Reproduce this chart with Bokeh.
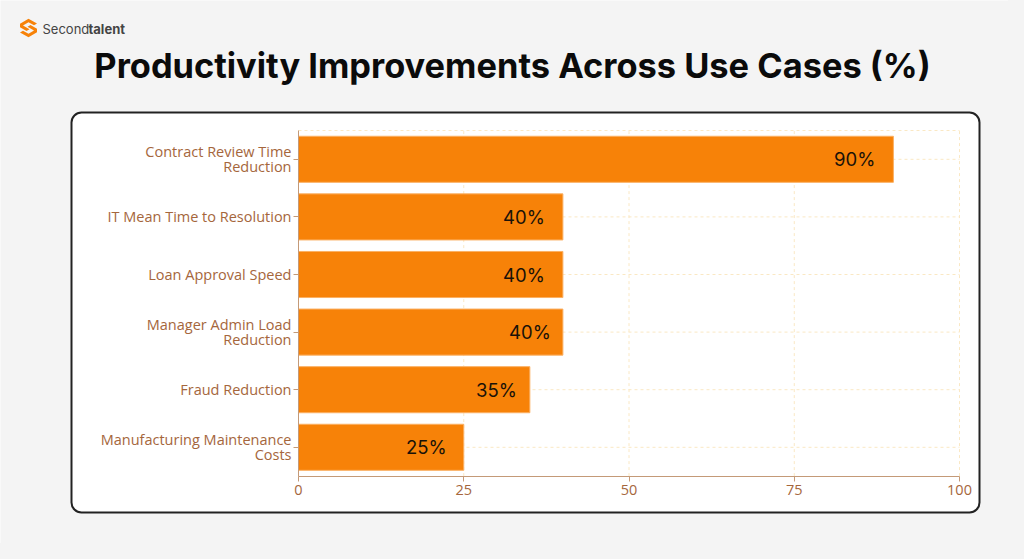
from bokeh.core.properties import value
from bokeh.embed import file_html
from bokeh.resources import INLINE
from bokeh.plotting import figure
from bokeh.models import (BoxAnnotation, ColumnDataSource, InlineStyleSheet, Label, LinearAxis,
                          PolyAnnotation, Range1d)

categories = ["Contract Review Time\nReduction", "IT Mean Time to Resolution", "Loan Approval Speed",
              "Manager Admin Load\nReduction", "Fraud Reduction", "Manufacturing Maintenance\nCosts"]
values = [90, 40, 40, 40, 35, 25]
value_labels = ["90%", "40%", "40%", "40%", "35%", "25%"]
label_nudges = [-18, -18, -18, -12, -13, -17]
x_ticks = [0, 25, 50, 75, 100]
title_text = "Productivity Improvements Across Use Cases (%)"

W, H = 1008, 543
BG = "#f4f4f4"
ORANGE = "#f78208"
AXIS_TEXT = "#a5663c"
AXIS_LINE = "#c49a78"
GRID = "#fae8c4"

# pixel layout of the plot area inside the canvas
LEFT, RIGHT, TOP, ROW = 298, 959, 130, 57.6
n = len(categories)
px_per_unit = (RIGHT - LEFT) / 100
X = lambda px: (px - LEFT) / px_per_unit
Y = lambda py: n - 0.5 - (py - TOP) / ROW

p = figure(width=W, height=H, output_backend="svg", toolbar_location=None,
           x_range=Range1d(X(0), X(W)), y_range=Range1d(Y(H), Y(0)),
           x_axis_location=None, y_axis_location=None, min_border=0)
p.stylesheets = [InlineStyleSheet(css=f":host {{ box-shadow: 0 0 0 16px {BG}; }}")]
p.background_fill_color = BG
p.border_fill_color = BG
p.outline_line_color = None
p.xgrid.visible = False
p.ygrid.visible = False

p.add_layout(BoxAnnotation(left=X(71), right=X(979), top=Y(112), bottom=Y(512), fill_color="white", fill_alpha=1,
                           line_color="#222222", line_alpha=1, line_width=2, border_radius=10, level="image"))

rows = [n - 1 - i for i in range(n)]
y_low, y_high = -0.5, n - 0.5
# dotted grid
vgrid = p.segment(x0=x_ticks, x1=x_ticks, y0=[y_low] * len(x_ticks), y1=[y_high] * len(x_ticks),
                  line_color=GRID, line_width=1)
grid_y = rows + [y_high]
hgrid = p.segment(x0=[0] * len(grid_y), x1=[100] * len(grid_y), y0=grid_y, y1=grid_y,
                  line_color=GRID, line_width=1)
vgrid.glyph.line_dash = [3, 3]
hgrid.glyph.line_dash = [3, 3]

source = ColumnDataSource(dict(y=rows, val=values, txt=value_labels, nudge=label_nudges))
p.hbar(y="y", right="val", left=0, height=0.8, source=source, fill_color=ORANGE, line_color="#fbb063", line_width=1)
p.text(x="val", y="y", text="txt", source=source, x_offset="nudge", text_align="right", text_baseline="middle",
       text_font=value("Inter"), text_font_size="18.5px", text_color="#1a1208")

xaxis = LinearAxis(fixed_location=y_low, ticker=x_ticks, bounds=(0, 100))
yaxis = LinearAxis(fixed_location=0, ticker=rows, bounds=(y_low, y_high),
                   major_label_overrides={r: c for r, c in zip(rows, categories)})
for ax in (xaxis, yaxis):
    ax.axis_line_color = AXIS_LINE
    ax.major_tick_line_color = AXIS_LINE
    ax.major_tick_in = 0
    ax.major_tick_out = 5
    ax.minor_tick_line_color = None
    ax.major_label_text_font = "Open Sans"
    ax.major_label_text_font_size = "14.5px"
    ax.major_label_text_color = AXIS_TEXT
    ax.major_label_text_line_height = 0.78
yaxis.major_label_standoff = 2
xaxis.major_label_standoff = 4
p.add_layout(xaxis, "below")
p.add_layout(yaxis, "left")

p.add_layout(Label(x=X(512), y=Y(65), text=title_text, text_align="center", text_baseline="middle",
                   text_font="Inter", text_font_style="bold", text_font_size="34.4px", text_color="#0b0b0b"))
p.add_layout(Label(x=X(42), y=Y(28), text="Second", text_baseline="middle",
                   text_font="Inter", text_font_size="13px", text_color="#444444"))
p.add_layout(Label(x=X(88), y=Y(28), text="talent", text_baseline="middle",
                   text_font="Inter", text_font_style="bold", text_font_size="13px", text_color="#444444"))

# logo: two interlocking strokes, the second the point reflection of the first
stroke = [(28, 18.3), (36.5, 23), (33.5, 24.8), (28, 21.8), (22.5, 25), (29, 28.8), (26, 30.5), (19.5, 26.8), (19.5, 23.2)]
for pts in (stroke, [(56 - a, 55 - b) for a, b in stroke]):
    p.add_layout(PolyAnnotation(xs=[X(a) for a, _ in pts], ys=[Y(b) for _, b in pts], fill_color=ORANGE, fill_alpha=1,
                                line_color=None))

open("out.html", "w").write(file_html(p, INLINE))
